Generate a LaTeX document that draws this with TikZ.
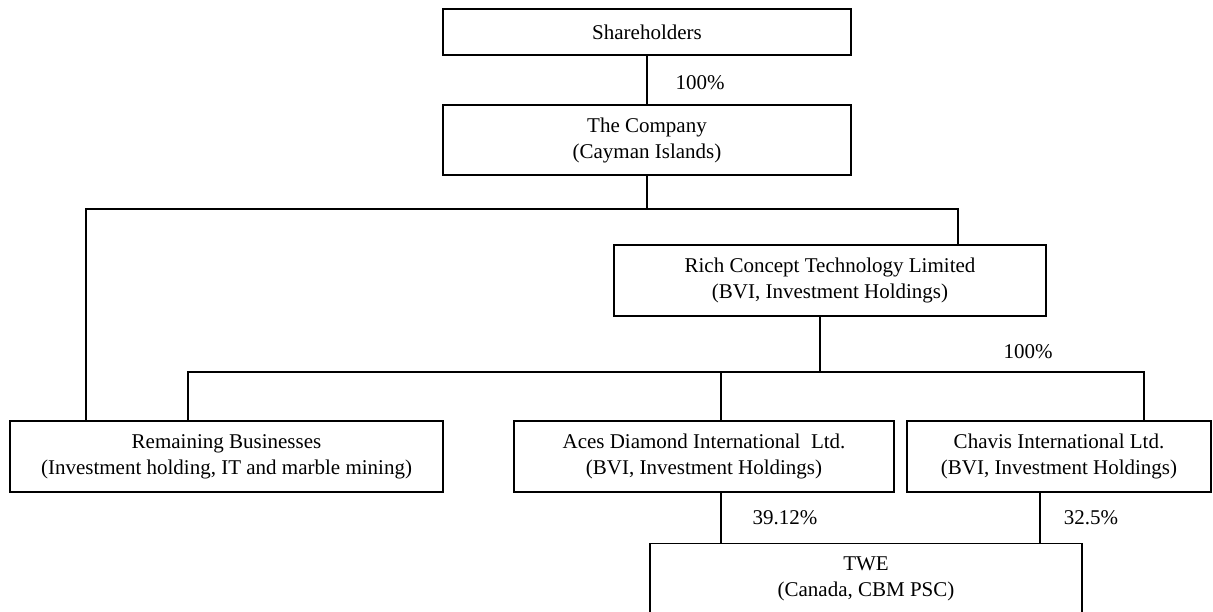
\documentclass[tikz,border=0pt]{standalone}
\usepackage{fontspec}
\setmainfont{Liberation Serif}
\begin{document}
\begin{tikzpicture}[x=1pt,y=-1pt,
  txt/.style={font=\fontsize{21}{26}\selectfont},
  box/.style={txt, draw, line width=1.3pt, align=center, inner sep=0pt, minimum height=71pt},
  conn/.style={line width=1.3pt},
  pct/.style={txt, inner sep=0pt}]
\useasboundingbox (0,0) rectangle (1213,612);

% boxes
\node[box, minimum width=408pt, minimum height=46pt] (sh) at (647,32) {Shareholders};
\node[box, minimum width=408pt, minimum height=70pt] (co) at (647,140) {The Company\\(Cayman Islands)};
\node[box, minimum width=432pt] (rc) at (830,280.5) {Rich Concept Technology Limited\\(BVI, Investment Holdings)};
\node[box, minimum width=433pt] (rb) at (226.5,456.5) {Remaining Businesses\\(Investment holding, IT and marble mining)};
\node[box, minimum width=380pt] (ad) at (704,456.5) {Aces Diamond International~ Ltd.\\(BVI, Investment Holdings)};
\node[box, minimum width=304pt] (ch) at (1059,456.5) {Chavis International Ltd.\\(BVI, Investment Holdings)};
\node[box, minimum width=432pt] (twe) at (866,579) {TWE\\(Canada, CBM PSC)};

% junction coordinates
\coordinate (j1) at (647,209);
\coordinate (j1l) at (86,209);
\coordinate (j1r) at (958,209);
\coordinate (j2) at (820,372);
\coordinate (j2l) at (188,372);
\coordinate (j2m) at (721,372);
\coordinate (j2r) at (1144,372);
\coordinate (a1) at (721,492);
\coordinate (c1) at (1040,492);

% connectors
\draw[conn] (sh.south) -- (co.north);
\draw[conn] (co.south) -- (j1);
\draw[conn] (rb.north -| j1l) -- (j1l) -- (j1r) -- (rc.north -| j1r);
\draw[conn] (rc.south -| j2) -- (j2);
\draw[conn] (rb.north -| j2l) -- (j2l) -- (j2r) -- (ch.north -| j2r);
\draw[conn] (j2m) -- (ad.north -| j2m);
\draw[conn] (ad.south -| a1) -- (twe.north -| a1);
\draw[conn] (ch.south -| c1) -- (twe.north -| c1);

% percentages
\node[pct] (p1) at (700,83) {100\%};
\node[pct] (p2) at (1028,352) {100\%};
\node[pct] (p3) at (785,518) {39.12\%};
\node[pct] (p4) at (1091,518) {32.5\%};
\end{tikzpicture}
\end{document}
